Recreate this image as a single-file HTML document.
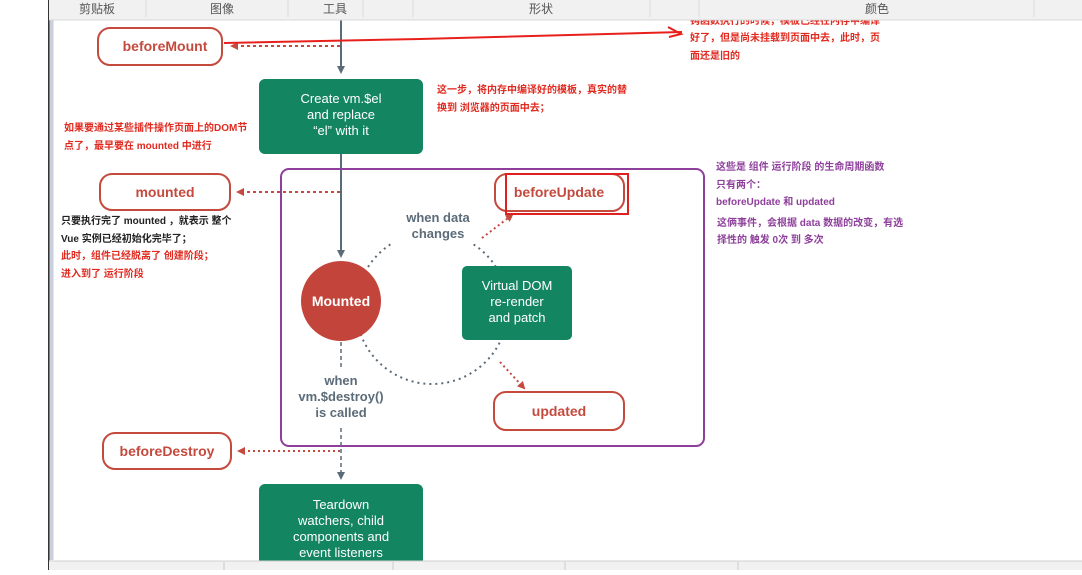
<!DOCTYPE html>
<html><head><meta charset="utf-8"><style>
body{margin:0;width:1082px;height:570px;overflow:hidden;background:#fff;font-family:"Liberation Sans","Noto Sans CJK SC",sans-serif}
svg text{font-family:"Liberation Sans","Noto Sans CJK SC",sans-serif}
</style></head><body>
<svg width="1082" height="570" viewBox="0 0 1082 570" xmlns="http://www.w3.org/2000/svg">
<defs>
<marker id="ag" markerWidth="8" markerHeight="8" refX="6" refY="4" orient="auto" markerUnits="userSpaceOnUse"><path d="M0,0 L8,4 L0,8 z" fill="#5b6b78"/></marker>
<marker id="ar" markerWidth="8" markerHeight="8" refX="6" refY="4" orient="auto" markerUnits="userSpaceOnUse"><path d="M0,0 L8,4 L0,8 z" fill="#c44a3e"/></marker>
</defs>
<rect x="0" y="0" width="1082" height="570" fill="#fff"/>
<rect x="48" y="0" width="1.5" height="570" fill="#333"/>
<rect x="49.5" y="20" width="4" height="540" fill="#c9cfdb"/>
<!-- main vertical flow -->
<line x1="341" y1="20" x2="341" y2="72" stroke="#5b6b78" stroke-width="2" marker-end="url(#ag)"/>
<line x1="341" y1="154" x2="341" y2="256" stroke="#5b6b78" stroke-width="2" marker-end="url(#ag)"/>
<line x1="340" y1="46" x2="232" y2="46" stroke="#c44a3e" stroke-width="2" stroke-dasharray="3,3" marker-end="url(#ar)"/>
<rect x="98" y="28" width="124" height="37" rx="12" fill="#fff" stroke="#c44a3e" stroke-width="2"/>
<text x="165" y="51" font-size="14" font-weight="bold" fill="#c44a3e" text-anchor="middle">beforeMount</text>
<path d="M224,43 L420,39 L682,32" stroke="#e8201c" stroke-width="2" fill="none"/>
<path d="M668,27 L681,34 L669,37" stroke="#e8201c" stroke-width="2" fill="none"/>
<rect x="259" y="79" width="164" height="75" rx="6" fill="#138561"/>
<g font-size="13" fill="#fff" text-anchor="middle"><text x="341" y="103">Create vm.$el</text><text x="341" y="119">and replace</text><text x="341" y="135">“el” with it</text></g>
<g font-size="10" font-weight="bold" fill="#e02a20">
<text x="690" y="24">钩函数执行的时候，模板已经在内存中编译</text>
<text x="690" y="41">好了，但是尚未挂载到页面中去，此时，页</text>
<text x="690" y="59">面还是旧的</text>
<text x="437" y="93">这一步，将内存中编译好的模板，真实的替</text>
<text x="437" y="111">换到 浏览器的页面中去；</text>
<text x="64" y="131">如果要通过某些插件操作页面上的DOM节</text>
<text x="64" y="149">点了，最早要在 mounted 中进行</text>
<text x="61" y="259">此时，组件已经脱离了 创建阶段；</text>
<text x="61" y="277">进入到了 运行阶段</text>
</g>
<g font-size="10" font-weight="bold" fill="#222">
<text x="61" y="224">只要执行完了 mounted ，就表示 整个</text>
<text x="61" y="242">Vue 实例已经初始化完毕了；</text>
</g>
<g font-size="10" font-weight="bold" fill="#8e3f9b">
<text x="716" y="170">这些是 组件 运行阶段 的生命周期函数</text>
<text x="716" y="188">只有两个：</text>
<text x="716" y="205">beforeUpdate  和  updated</text>
<text x="717" y="226">这俩事件，会根据 data 数据的改变，有选</text>
<text x="717" y="243">择性的 触发 0次 到 多次</text>
</g>
<line x1="340" y1="192" x2="238" y2="192" stroke="#c44a3e" stroke-width="2" stroke-dasharray="3,3" marker-end="url(#ar)"/>
<rect x="100" y="174" width="130" height="36" rx="12" fill="#fff" stroke="#c44a3e" stroke-width="2"/>
<text x="165" y="197" font-size="14" font-weight="bold" fill="#c44a3e" text-anchor="middle">mounted</text>
<rect x="281" y="169" width="423" height="277" rx="8" fill="none" stroke="#8e3f9b" stroke-width="2"/>
<circle cx="432" cy="308" r="76" fill="none" stroke="#5b6b78" stroke-width="2" stroke-dasharray="2,4"/>
<rect x="390" y="206" width="90" height="38" fill="#fff"/>
<g font-size="13" font-weight="bold" fill="#5b6b78" text-anchor="middle"><text x="438" y="222">when data</text><text x="438" y="238">changes</text></g>
<circle cx="341" cy="301" r="40" fill="#c2443b"/>
<text x="341" y="306" font-size="14" font-weight="bold" fill="#fff" text-anchor="middle">Mounted</text>
<rect x="462" y="266" width="110" height="74" rx="5" fill="#138561"/>
<g font-size="13" fill="#fff" text-anchor="middle"><text x="517" y="290">Virtual DOM</text><text x="517" y="306">re-render</text><text x="517" y="322">and patch</text></g>
<line x1="482" y1="238" x2="512" y2="215" stroke="#c44a3e" stroke-width="2" stroke-dasharray="2,3" marker-end="url(#ar)"/>
<line x1="500" y1="362" x2="524" y2="388" stroke="#c44a3e" stroke-width="2" stroke-dasharray="2,3" marker-end="url(#ar)"/>
<rect x="495" y="174" width="129" height="37" rx="12" fill="#fff" stroke="#c44a3e" stroke-width="2"/>
<rect x="506" y="174" width="122" height="40" fill="none" stroke="#e02020" stroke-width="2"/>
<text x="559" y="197" font-size="14" font-weight="bold" fill="#c44a3e" text-anchor="middle">beforeUpdate</text>
<rect x="494" y="392" width="130" height="38" rx="12" fill="#fff" stroke="#c44a3e" stroke-width="2"/>
<text x="559" y="416" font-size="14" font-weight="bold" fill="#c44a3e" text-anchor="middle">updated</text>
<line x1="341" y1="342" x2="341" y2="370" stroke="#5b6b78" stroke-width="1.5" stroke-dasharray="4,3"/>
<g font-size="13" font-weight="bold" fill="#5b6b78" text-anchor="middle"><text x="341" y="385">when</text><text x="341" y="401">vm.$destroy()</text><text x="341" y="417">is called</text></g>
<line x1="341" y1="428" x2="341" y2="478" stroke="#5b6b78" stroke-width="1.5" stroke-dasharray="4,3" marker-end="url(#ag)"/>
<line x1="340" y1="451" x2="239" y2="451" stroke="#c44a3e" stroke-width="2" stroke-dasharray="2,3" marker-end="url(#ar)"/>
<rect x="103" y="433" width="128" height="36" rx="12" fill="#fff" stroke="#c44a3e" stroke-width="2"/>
<text x="167" y="456" font-size="14" font-weight="bold" fill="#c44a3e" text-anchor="middle">beforeDestroy</text>
<rect x="259" y="484" width="164" height="90" rx="6" fill="#138561"/>
<g font-size="13" fill="#fff" text-anchor="middle"><text x="341" y="509">Teardown</text><text x="341" y="525">watchers, child</text><text x="341" y="541">components and</text><text x="341" y="557">event listeners</text></g>
<!-- toolbar (on top) -->
<rect x="49" y="0" width="1033" height="20" fill="#f1f1f1"/>
<line x1="49" y1="20" x2="1082" y2="20" stroke="#d8d8d8"/>
<g stroke="#dcdcdc"><line x1="146" y1="0" x2="146" y2="17"/><line x1="288" y1="0" x2="288" y2="17"/><line x1="363" y1="0" x2="363" y2="17"/><line x1="413" y1="0" x2="413" y2="17"/><line x1="650" y1="0" x2="650" y2="17"/><line x1="699" y1="0" x2="699" y2="17"/><line x1="1034" y1="0" x2="1034" y2="17"/></g>
<g font-size="12" fill="#555" text-anchor="middle"><text x="97" y="13">剪贴板</text><text x="222" y="13">图像</text><text x="335" y="13">工具</text><text x="541" y="13">形状</text><text x="877" y="13">颜色</text></g>
<!-- status bar (on top) -->
<rect x="49" y="561" width="1033" height="9" fill="#f1f1f1"/>
<line x1="49" y1="561" x2="1082" y2="561" stroke="#d0d0d0"/>
<g stroke="#ccc"><line x1="224" y1="562" x2="224" y2="570"/><line x1="393" y1="562" x2="393" y2="570"/><line x1="565" y1="562" x2="565" y2="570"/><line x1="738" y1="562" x2="738" y2="570"/></g>
</svg>
</body></html>
